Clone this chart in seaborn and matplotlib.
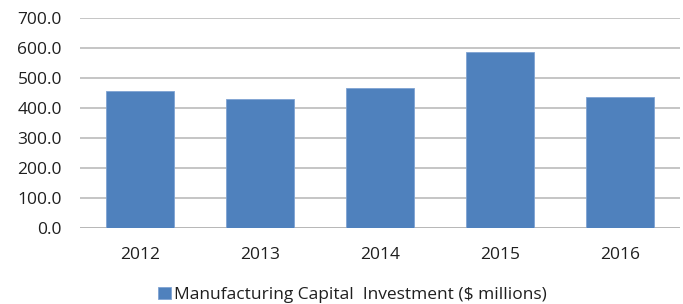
import matplotlib
matplotlib.use("Agg")
import matplotlib.pyplot as plt
import seaborn as sns
import pandas as pd

years = ["2012", "2013", "2014", "2015", "2016"]
investment = [456.0, 431.0, 466.0, 587.0, 436.0]
series_name = "Manufacturing Capital  Investment ($ millions)"

sns.set_style("white")
plt.rcParams["font.family"] = ["Open Sans", "DejaVu Sans"]

df = pd.DataFrame({"Year": years, "Investment": investment})

fig = plt.figure(figsize=(6.83, 3.04), dpi=100)
ax = fig.add_axes([80 / 683, 1 - 228 / 304, 600 / 683, 210 / 304])

sns.barplot(data=df, x="Year", y="Investment", color="#4f81bd",
            width=0.56, saturation=1, edgecolor="#7fa3d3", linewidth=0.6,
            label=series_name, ax=ax, zorder=3)

ax.set_ylim(0, 700)
ax.set_yticks(range(0, 701, 100))
ax.set_yticklabels([f"{v:.1f}" for v in range(0, 701, 100)])
ax.yaxis.grid(True, color="#b5b5b5", linewidth=1.1, zorder=0)
ax.set_axisbelow(True)
sns.despine(ax=ax, left=True, bottom=True, top=True, right=True)
ax.axhline(0, color="#b5b5b5", linewidth=1.1, zorder=1)
ax.set_xlabel("")
ax.set_ylabel("")
ax.tick_params(axis="both", length=0, labelsize=12.5, colors="#1f1f1f")
ax.tick_params(axis="y", pad=13)
ax.tick_params(axis="x", pad=14)

# legend sits at the very bottom edge, as in the original
ax.legend(loc="upper left", bbox_to_anchor=(158 / 683, 1 - 286.5 / 304),
          bbox_transform=fig.transFigure, frameon=False, fontsize=12.5,
          handlelength=0.75, handleheight=0.75, handletextpad=0.2,
          labelcolor="#1f1f1f", borderaxespad=0, borderpad=0)

fig.savefig("out.png", dpi=100)
